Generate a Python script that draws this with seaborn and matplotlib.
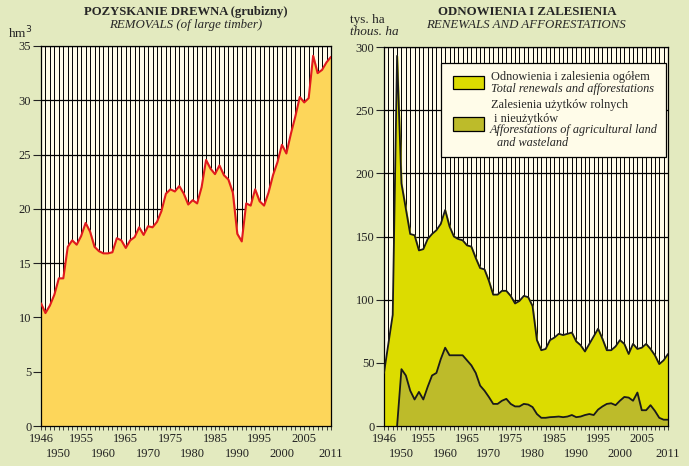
import numpy as np
import pandas as pd
import matplotlib.pyplot as plt
import seaborn as sns
from matplotlib.patches import Rectangle

sns.set_theme(style="white")
plt.rcParams["font.family"] = ["Liberation Serif", "DejaVu Serif"]

# -----------------------------
# Data
# -----------------------------
years = list(range(1946, 2012))

# removals of large timber, hm3
removals = [11.3, 10.4, 11.1, 12.1,
            13.6, 13.6, 16.5, 17.1, 16.7, 17.5, 18.7, 17.9, 16.5, 16.1,
            15.9, 15.9, 16.0, 17.3, 17.1, 16.4, 17.1, 17.4, 18.3, 17.6,
            18.4, 18.3, 18.8, 19.8, 21.4, 21.8, 21.6, 22.1, 21.4, 20.4,
            20.8, 20.5, 22.0, 24.5, 23.7, 23.2, 24.0, 23.1, 22.7, 21.5,
            17.7, 17.0, 20.5, 20.3, 21.8, 20.7, 20.3, 21.5, 23.1, 24.3,
            25.9, 25.1, 26.9, 28.5, 30.3, 29.8, 30.2, 34.1, 32.5, 32.8,
            33.5, 34.0]

# total renewals and afforestations, thous. ha
total = [42, 65, 88, 293,
         192, 172, 152, 151, 139, 140, 148, 152, 155, 160,
         171, 158, 150, 148, 147, 143, 142, 133, 125, 124,
         115, 104, 104, 107, 107, 103, 97, 99, 103, 102,
         95, 68, 60, 61, 68, 70, 73, 72, 73, 74,
         67, 64, 59, 65, 71, 77, 69, 60, 60, 63,
         68, 65, 57, 65, 61, 62, 65, 61, 56, 49,
         52, 57]

# afforestations of agricultural land and wasteland, thous. ha
agri = [np.nan, np.nan, np.nan, 0,
        45, 40, 28, 21, 27, 21, 31, 40, 42, 53,
        62, 56, 56, 56, 56, 52, 48, 42, 32, 28,
        23, 17.5, 17.5, 20, 21.5, 17.5, 15.5, 15.5, 17.5, 17,
        15, 9.5, 6.5, 6.5, 7, 7.2, 7.5, 7, 7.5, 8.7,
        7, 7.5, 8.7, 9.5, 8.7, 13, 15.5, 17.5, 18, 16.5,
        20, 23, 22.5, 20, 26.5, 12.5, 12.5, 16.5, 12, 6.5,
        5, 5]

tick_years = [1946, 1950, 1955, 1960, 1965, 1970, 1975, 1980,
              1985, 1990, 1995, 2000, 2005, 2011]

df = pd.DataFrame({"year": years, "removals": removals,
                   "total": total, "agri": agri})

# -----------------------------
# Colours
# -----------------------------
PAGE = "#e3eabf"
PLOT_BG = "#fffce9"
ORANGE = "#fdd65a"
RED = "#e01a1e"
YELLOW = "#dcdc00"
OLIVE = "#bdbb2a"

fig = plt.figure(figsize=(6.89, 4.66), dpi=100, facecolor=PAGE)
ax1 = fig.add_axes([0.0595, 0.0858, 0.4209, 0.8155])
ax2 = fig.add_axes([0.5573, 0.0858, 0.4122, 0.8133])


def style_axis(ax, ymax, ystep):
    ax.set_facecolor(PLOT_BG)
    ax.set_xlim(1946, 2011)
    ax.set_ylim(0, ymax)
    ax.set_xticks(tick_years)
    ax.set_xticklabels([str(y) for y in tick_years], fontsize=9)
    ax.set_xticks(years, minor=True)
    ax.set_yticks(np.arange(0, ymax + 1, ystep))
    ax.tick_params(axis="y", direction="out", length=6, width=0.8,
                   labelsize=9, pad=1, colors="#222222", left=True)
    ax.tick_params(axis="x", which="both", direction="out", length=3,
                   width=0.6, pad=2, bottom=True, colors="#222222")
    # staggered year labels: every second one sits one row lower
    for i, tick in enumerate(ax.xaxis.get_major_ticks()):
        if i % 2 == 1:
            tick.set_pad(12.5)
    ax.grid(True, axis="x", which="both", color="black", lw=0.7)
    ax.grid(True, axis="y", which="major", color="black", lw=0.9)
    ax.set_axisbelow(True)
    for s in ax.spines.values():
        s.set_color("black")
        s.set_linewidth(0.9)
    ax.set_xlabel("")
    ax.set_ylabel("")


# ---------------------------------------------------
# Left: removals
# ---------------------------------------------------
ax1.fill_between(df["year"], 0, df["removals"], color=ORANGE, zorder=2)
sns.lineplot(data=df, x="year", y="removals", ax=ax1, color=RED,
             lw=1.5, zorder=3)
style_axis(ax1, 35, 5)

fig.text(0.27, 0.974, "POZYSKANIE DREWNA (grubizny)", ha="center",
         va="center", fontsize=9.1, fontweight="bold")
fig.text(0.27, 0.946, "REMOVALS (of large timber)", ha="center",
         va="center", fontsize=9.3, style="italic")
fig.text(0.012, 0.93, "hm$^3$", ha="left", va="center", fontsize=9.5)

# ---------------------------------------------------
# Right: renewals and afforestations
# ---------------------------------------------------
ax2.fill_between(df["year"], 0, df["total"], color=YELLOW, zorder=2)
ax2.fill_between(df["year"], 0, df["agri"], color=OLIVE, zorder=2)
sns.lineplot(data=df, x="year", y="total", ax=ax2, color="#1a1a1a",
             lw=1.3, zorder=3)
sns.lineplot(data=df, x="year", y="agri", ax=ax2, color="#1a1a1a",
             lw=1.3, zorder=3)
style_axis(ax2, 300, 50)

fig.text(0.765, 0.974, "ODNOWIENIA I ZALESIENIA", ha="center",
         va="center", fontsize=9.3, fontweight="bold")
fig.text(0.763, 0.946, "RENEWALS AND AFFORESTATIONS", ha="center",
         va="center", fontsize=9.3, style="italic")
fig.text(0.508, 0.958, "tys. ha", ha="left", va="center", fontsize=9.5)
fig.text(0.508, 0.932, "thous. ha", ha="left", va="center", fontsize=9.5,
         style="italic")

# legend box drawn by hand (mixed upright / italic lines)
ax2.add_patch(Rectangle((0.2007, 0.710), 0.7923, 0.248,
                        transform=ax2.transAxes, facecolor=PLOT_BG,
                        edgecolor="black", lw=0.9, zorder=5))
ax2.add_patch(Rectangle((0.243, 0.888), 0.109, 0.035,
                        transform=ax2.transAxes, facecolor=YELLOW,
                        edgecolor="black", lw=0.9, zorder=6))
ax2.add_patch(Rectangle((0.243, 0.779), 0.109, 0.0355,
                        transform=ax2.transAxes, facecolor=OLIVE,
                        edgecolor="black", lw=0.9, zorder=6))
leg_lines = [
    (0.3757, 0.920, "Odnowienia i zalesienia ogółem", "normal"),
    (0.3757, 0.888, "Total renewals and afforestations", "italic"),
    (0.3757, 0.847, "Zalesienia użytków rolnych", "normal"),
    (0.388, 0.810, "i nieużytków", "normal"),
    (0.373, 0.781, "Afforestations of agricultural land", "italic"),
    (0.397, 0.7475, "and wasteland", "italic"),
]
for x, y, txt, st in leg_lines:
    ax2.text(x, y, txt, transform=ax2.transAxes, fontsize=8.8, style=st,
             ha="left", va="center", zorder=7)

plt.savefig("out.png", dpi=100, facecolor=PAGE)
plt.close()
